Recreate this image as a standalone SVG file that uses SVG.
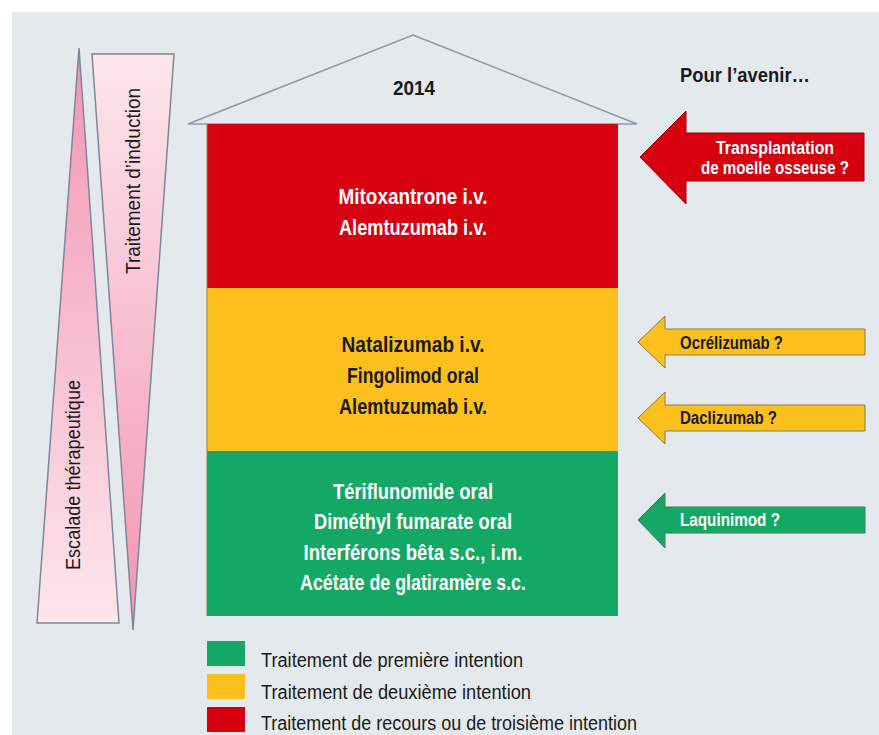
<svg xmlns="http://www.w3.org/2000/svg" width="879" height="735" viewBox="0 0 879 735">
  <defs>
    <linearGradient id="gradUp" x1="0" y1="1" x2="0" y2="0">
      <stop offset="0" stop-color="#fde6ec"/>
      <stop offset="1" stop-color="#f294b6"/>
    </linearGradient>
    <linearGradient id="gradDown" x1="0" y1="0" x2="0" y2="1">
      <stop offset="0" stop-color="#fde6ec"/>
      <stop offset="1" stop-color="#f294b6"/>
    </linearGradient>
    <style>
      .t { font-family: "Liberation Sans", Arial, sans-serif; }
      .b { font-weight: bold; }
      .lvl { font-size: 22px; font-weight: bold; text-anchor: middle; }
      .arr { font-size: 18px; font-weight: bold; }
      .leg { font-size: 20px; fill: #1a1a1a; }
      .side { font-size: 20px; fill: #1a1a1a; text-anchor: middle; }
      .wedge { stroke: #7d8796; stroke-width: 1.5; }
      .red { fill: #d7000f; }
      .yellow { fill: #fcc01c; }
      .green { fill: #13a866; }
    </style>
  </defs>

  <!-- panel background -->
  <rect x="0" y="0" width="879" height="735" fill="#ffffff"/>
  <rect x="12" y="12" width="867" height="723" fill="#e3e9ec"/>

  <!-- escalation wedge (narrow end at top) -->
  <g id="escalade">
    <polygon class="wedge" points="79,48 119,623 37,623" fill="url(#gradUp)"/>
    <text class="t side" transform="translate(80,475) rotate(-90)" textLength="190" lengthAdjust="spacingAndGlyphs">Escalade thérapeutique</text>
  </g>

  <!-- induction wedge (narrow end at bottom) -->
  <g id="induction">
    <polygon class="wedge" points="92,54 174,54 133,630" fill="url(#gradDown)"/>
    <text class="t side" transform="translate(140,181) rotate(-90)" textLength="186" lengthAdjust="spacingAndGlyphs">Traitement d’induction</text>
  </g>

  <!-- roof -->
  <g id="roof">
    <polygon points="413,35 637,124 188,124" fill="#e3e9ec" stroke="#8c99a6" stroke-width="1.5"/>
    <text class="t b" x="414" y="95" font-size="21" text-anchor="middle" fill="#1a1a1a" textLength="42" lengthAdjust="spacingAndGlyphs">2014</text>
  </g>

  <!-- third-line level -->
  <g id="level3">
    <rect class="red" x="207" y="124" width="411" height="164"/>
    <text class="t lvl" x="413" y="204" fill="#ffffff" textLength="149" lengthAdjust="spacingAndGlyphs">Mitoxantrone i.v.</text>
    <text class="t lvl" x="413" y="235" fill="#ffffff" textLength="148" lengthAdjust="spacingAndGlyphs">Alemtuzumab i.v.</text>
  </g>

  <!-- second-line level -->
  <g id="level2">
    <rect class="yellow" x="207" y="288" width="411" height="163"/>
    <text class="t lvl" x="413" y="352" fill="#1a1a1a" textLength="143" lengthAdjust="spacingAndGlyphs">Natalizumab i.v.</text>
    <text class="t lvl" x="413" y="383" fill="#1a1a1a" textLength="132" lengthAdjust="spacingAndGlyphs">Fingolimod oral</text>
    <text class="t lvl" x="413" y="414" fill="#1a1a1a" textLength="148" lengthAdjust="spacingAndGlyphs">Alemtuzumab i.v.</text>
  </g>

  <!-- first-line level -->
  <g id="level1">
    <rect class="green" x="207" y="451" width="411" height="165"/>
    <text class="t lvl" x="413" y="499" fill="#ffffff" textLength="160" lengthAdjust="spacingAndGlyphs">Tériflunomide oral</text>
    <text class="t lvl" x="413" y="529" fill="#ffffff" textLength="198" lengthAdjust="spacingAndGlyphs">Diméthyl fumarate oral</text>
    <text class="t lvl" x="413" y="560" fill="#ffffff" textLength="219" lengthAdjust="spacingAndGlyphs">Interférons bêta s.c., i.m.</text>
    <text class="t lvl" x="413" y="590" fill="#ffffff" textLength="226" lengthAdjust="spacingAndGlyphs">Acétate de glatiramère s.c.</text>
  </g>
  <line x1="207" y1="124" x2="207" y2="616" stroke="#8a8060" stroke-width="1"/>

  <!-- future therapies -->
  <g id="future-title">
    <text class="t b" x="680" y="82" font-size="21" fill="#1a1a1a" textLength="130" lengthAdjust="spacingAndGlyphs">Pour l’avenir…</text>
  </g>

  <g id="arrow-transplant">
    <polygon class="red" points="640,157 686,111 686,133 864,133 864,181 686,181 686,204" stroke="#a0000a" stroke-width="1"/>
    <text class="t arr" x="775" y="154" fill="#ffffff" text-anchor="middle" textLength="118" lengthAdjust="spacingAndGlyphs">Transplantation</text>
    <text class="t arr" x="775" y="174" fill="#ffffff" text-anchor="middle" textLength="148" lengthAdjust="spacingAndGlyphs">de moelle osseuse ?</text>
  </g>

  <g id="arrow-ocrelizumab">
    <polygon class="yellow" points="638,342 665,316 665,329 865,329 865,355 665,355 665,368" stroke="#8a7a4a" stroke-width="1"/>
    <text class="t arr" x="680" y="349" fill="#1a1a1a" textLength="103" lengthAdjust="spacingAndGlyphs">Ocrélizumab ?</text>
  </g>

  <g id="arrow-daclizumab">
    <polygon class="yellow" points="638,418 665,392 665,405 865,405 865,431 665,431 665,444" stroke="#8a7a4a" stroke-width="1"/>
    <text class="t arr" x="680" y="424" fill="#1a1a1a" textLength="97" lengthAdjust="spacingAndGlyphs">Daclizumab ?</text>
  </g>

  <g id="arrow-laquinimod">
    <polygon class="green" points="638,520 665,493 665,507 865,507 865,533 665,533 665,548" stroke="#4a7a5a" stroke-width="1"/>
    <text class="t arr" x="680" y="526" fill="#ffffff" textLength="100" lengthAdjust="spacingAndGlyphs">Laquinimod ?</text>
  </g>

  <!-- legend -->
  <g id="legend">
    <rect class="green" x="207" y="641" width="38" height="25"/>
    <text class="t leg" x="261" y="667" textLength="262" lengthAdjust="spacingAndGlyphs">Traitement de première intention</text>
    <rect class="yellow" x="207" y="674" width="38" height="25"/>
    <text class="t leg" x="261" y="699" textLength="270" lengthAdjust="spacingAndGlyphs">Traitement de deuxième intention</text>
    <rect class="red" x="207" y="707" width="38" height="25"/>
    <text class="t leg" x="261" y="730" textLength="376" lengthAdjust="spacingAndGlyphs">Traitement de recours ou de troisième intention</text>
  </g>
</svg>
